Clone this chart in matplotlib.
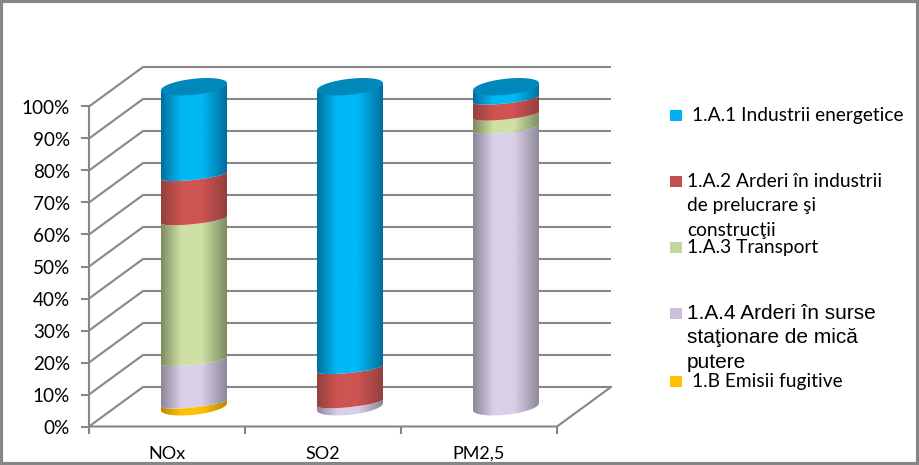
import numpy as np
import matplotlib
matplotlib.use("Agg")
import matplotlib.pyplot as plt
from matplotlib.colors import LinearSegmentedColormap
from matplotlib.patches import PathPatch, Rectangle
from matplotlib.path import Path

categories = ["NOx", "SO2", "PM2,5"]
series_names = ["1.B Emisii fugitive", "1.A.4 Arderi în surse\nstaţionare de mică\nputere",
                "1.A.3 Transport", "1.A.2 Arderi în industrii\nde prelucrare şi\nconstrucţii",
                "1.A.1 Industrii energetice"]
fugitive = [1.2, 0.0, 0.0]
stationary = [13.3, 1.3, 87.0]
transport = [44.0, 0.0, 4.2]
industry = [13.8, 10.7, 5.0]
energy = [27.7, 88.0, 3.8]
y_ticks = list(range(0, 101, 10))

W, H = 919, 465
fig = plt.figure(figsize=(W / 100, H / 100), dpi=100, facecolor="white")
ax = fig.add_axes([89 / W, 1 - 426.5 / H, 468 / W, 320 / H])
ax.set_xlim(0, 3)
ax.set_ylim(0, 100)
ax.axis("off")

GRID = "#868686"
DX = 54 / 156      # depth offset, category units
DY = 39.5 / 3.2    # depth offset, percent units
RX = 33 / 156
RY = 8 / 3.2
RY_INNER = 4.5 / 3.2
SHEAR = 3.5 / 3.2

for v in y_ticks:
    ax.plot([0, DX, 3 + DX], [v, v + DY, v + DY], color=GRID, lw=1.5, clip_on=False, zorder=1, solid_capstyle="butt")
    ax.plot([-7 / 156, 0], [v, v], color=GRID, lw=1.5, clip_on=False, zorder=1)
    ax.text(-19 / 156, v - 1.5 / 3.2, f"{v}%", ha="right", va="center", fontsize=13.6, family="Lato", color="black", clip_on=False)
ax.plot([0, 0], [0, 100], color=GRID, lw=1.5, clip_on=False, zorder=1)
ax.plot([0, 3, 3 + DX], [0, 0, DY], color=GRID, lw=1.5, clip_on=False, zorder=1)
for i in range(4):
    ax.plot([i, i], [0, -6 / 3.2], color=GRID, lw=1.5, clip_on=False, zorder=1)
for i, c in enumerate(categories):
    ax.text(i + 0.5, -27 / 3.2, c, ha="center", va="center", fontsize=13, family="Lato", color="black", clip_on=False)

palette = [("#b98a00", "#ffc000"), ("#8d8799", "#d9cfe8"), ("#7d8c60", "#cfe0a5"),
           ("#93403e", "#cd5451"), ("#006f9e", "#00b8f5")]
tops = ["#e6ad00", "#bcb5cc", "#b5c890", "#b04846", "#0088ba"]
grad = np.linspace(0, 1, 128)[None, :]
t = np.linspace(0, np.pi, 60)
data = [fugitive, stationary, transport, industry, energy]

for i in range(3):
    cx = i + 0.5 + DX / 2
    base = DY / 2
    last = 0
    first = True
    for j, vals in enumerate(data):
        v = vals[i]
        if v <= 0:
            continue
        last = j
        xs = cx - RX * np.cos(t)
        low = base - (RY if first else RY_INNER) * np.sin(t) - SHEAR * np.cos(t)
        high = base + v - RY_INNER * np.sin(t) - SHEAR * np.cos(t)
        verts = np.r_[np.c_[xs, low], np.c_[xs[::-1], high[::-1]], [[xs[0], low[0]]]]
        patch = PathPatch(Path(verts, closed=True), fc="none", ec="none", transform=ax.transData)
        ax.add_patch(patch)
        cmap = LinearSegmentedColormap.from_list(
            "c", [(0, palette[j][0]), (0.3, palette[j][1]), (0.62, palette[j][1]), (1, palette[j][0])])
        im = ax.imshow(grad, extent=[cx - RX, cx + RX, base - RY - 2, base + v + RY + 2], aspect="auto",
                       cmap=cmap, zorder=3 + j * 0.1, interpolation="bilinear")
        im.set_clip_box(fig.bbox)
        im.set_clip_path(patch)
        base += v
        first = False
    a = np.linspace(0, 2 * np.pi, 120)
    ax.fill(cx - RX * np.cos(a), base + RY * np.sin(a) - SHEAR * np.cos(a), color=tops[last],
            lw=0, zorder=4, clip_on=False)
ax.set_xlim(0, 3)
ax.set_ylim(0, 100)

# legend and frame in figure pixels
ov = fig.add_axes([0, 0, 1, 1], facecolor="none")
ov.set_xlim(0, W)
ov.set_ylim(H, 0)
ov.axis("off")
leg = [(4, 115, 692, "Lato", 13.8), (3, 181, 687, "Lato", 13.8), (2, 247, 687, "Lato", 13.8),
       (1, 313, 687, "Liberation Sans", 15), (0, 381, 692, "Lato", 13.8)]
sw = ["#ffc000", "#ccc1da", "#c3d69b", "#c0504d", "#00b0f0"]
for j, y, x, fam, fs in leg:
    ov.add_patch(Rectangle((670, y - 5.5), 11.5, 11.5, color=sw[j], lw=0))
    for k, line in enumerate(series_names[j].split("\n")):
        ov.text(x, y + k * 24.7, line, family=fam, fontsize=fs, va="center", ha="left", color="black")
ov.plot([1, 917.5, 917.5, 1, 1], [1, 1, 463.5, 463.5, 1], color=GRID, lw=3, clip_on=False)
fig.savefig("out.png", dpi=100)
